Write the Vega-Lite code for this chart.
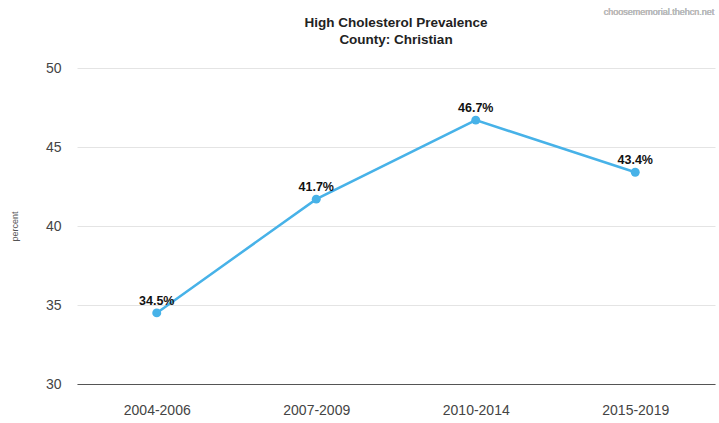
{
  "$schema": "https://vega.github.io/schema/vega-lite/v6.json",
  "autosize": "none",
  "width": 638,
  "height": 316,
  "padding": {"left": 77, "top": 68, "right": 4, "bottom": 39},
  "background": "white",
  "config": {"view": {"stroke": null}, "font": "Liberation Sans"},
  "title": {
    "text": "High Cholesterol Prevalence",
    "subtitle": "County: Christian",
    "anchor": "middle",
    "frame": "group",
    "fontSize": 13.5,
    "fontWeight": "bold",
    "color": "#222",
    "subtitleFontSize": 13.5,
    "subtitleFontWeight": "bold",
    "subtitleColor": "#222",
    "subtitlePadding": 3,
    "offset": -38
  },
  "data": {
    "values": [
      {"period": "2004-2006", "value": 34.5, "label": "34.5%"},
      {"period": "2007-2009", "value": 41.7, "label": "41.7%"},
      {"period": "2010-2014", "value": 46.7, "label": "46.7%"},
      {"period": "2015-2019", "value": 43.4, "label": "43.4%"}
    ]
  },
  "encoding": {
    "x": {
      "field": "period",
      "type": "ordinal",
      "scale": {"type": "point", "padding": 0.5},
      "sort": null,
      "axis": {
        "title": null,
        "labelAngle": 0,
        "labelFontSize": 14,
        "labelColor": "#444",
        "labelPadding": 19,
        "ticks": false,
        "domainColor": "#555",
        "domainWidth": 1.2,
        "grid": false
      }
    },
    "y": {
      "field": "value",
      "type": "quantitative",
      "scale": {"domain": [30, 50]},
      "axis": {
        "title": "percent",
        "titleFontSize": 9,
        "titleFontWeight": "normal",
        "titleColor": "#555",
        "titlePadding": 26,
        "values": [30, 35, 40, 45, 50],
        "labelFontSize": 14,
        "labelColor": "#444",
        "labelPadding": 16,
        "ticks": false,
        "domain": false,
        "gridColor": "#e4e4e4"
      }
    }
  },
  "layer": [
    {
      "mark": {"type": "line", "color": "#47b2e8", "strokeWidth": 2.5}
    },
    {
      "mark": {"type": "point", "filled": true, "size": 80, "opacity": 1, "color": "#47b2e8"}
    },
    {
      "mark": {"type": "text", "dy": -12, "fontSize": 12.5, "fontWeight": "bold", "color": "#111"},
      "encoding": {"text": {"field": "label", "type": "nominal"}}
    },
    {
      "mark": {"type": "text", "align": "right", "baseline": "middle", "dx": 79, "dy": -56, "fontSize": 9, "color": "#bbbbbb", "text": "choosememorial.thehcn.net"},
      "encoding": {
        "x": {"datum": "2015-2019"},
        "y": {"datum": 50}
      }
    }
  ]
}
